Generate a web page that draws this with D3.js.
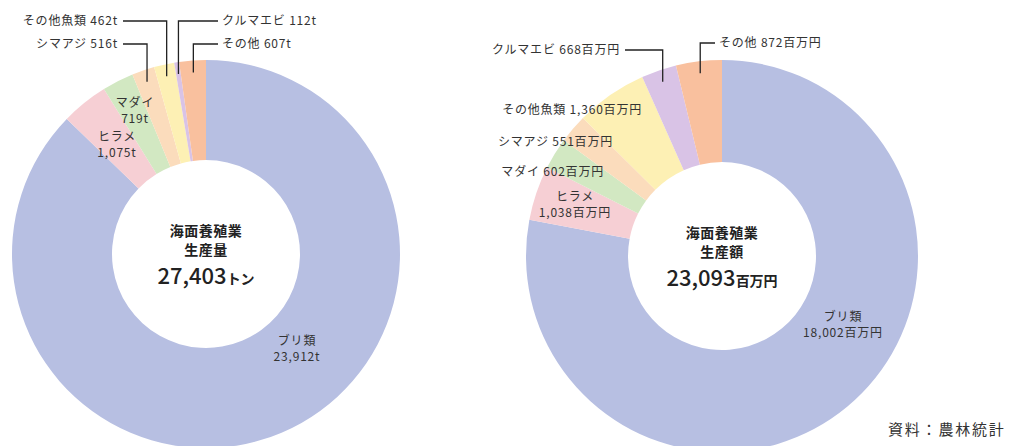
<!DOCTYPE html>
<html>
<head>
<meta charset="utf-8">
<script src="https://cdn.jsdelivr.net/npm/d3@7"></script>
<style>
  html, body { margin: 0; padding: 0; background: #fff; }
  svg { display: block; font-family: "Noto Sans CJK JP", "Noto Sans", sans-serif; }
</style>
</head>
<body>
<svg id="chart" width="1014" height="446"></svg>
<script>
// 品目（時計回り、12時から）
const species = ["ブリ類", "ヒラメ", "マダイ", "シマアジ", "その他魚類", "クルマエビ", "その他"];
// 生産量 (t)
const volumeValues = [23912, 1075, 719, 516, 462, 112, 607];
// 生産額 (百万円)
const valueValues = [18002, 1038, 602, 551, 1360, 668, 872];
const volumeTotal = 27403;
const valueTotal = 23093;

const colors = ["#b7bfe2", "#f6cfd4", "#d2e8c2", "#fbdcbc", "#fdf0b4", "#d9c3e6", "#f9c09e"];

const svg = d3.select("#chart");
const fmt = d3.format(",");

// ラベル配置: [x, y, anchor, 種類]  種類: in=中に2行, side=1行, call=引き出し線
const volumeLayout = [
  [297, 349, "middle", "in"],
  [117, 145, "middle", "in"],
  [135, 111, "middle", "in"],
  [118, 44, "end", "call"],
  [118, 21, "end", "call"],
  [222, 21, "start", "call"],
  [222, 44, "start", "call"]
];
const valueLayout = [
  [843, 325, "middle", "in"],
  [575, 205, "middle", "in"],
  [604, 172, "end", "side"],
  [613, 142, "end", "side"],
  [642, 110, "end", "side"],
  [620, 50, "end", "call"],
  [719, 43, "start", "call"]
];

function drawDonut(opt) {
  const g = svg.append("g").attr("transform", `translate(${opt.cx},${opt.cy})`);
  const pie = d3.pie().sort(null).value(d => d);
  const arcs = pie(opt.values);
  const arc = d3.arc().innerRadius(opt.inner).outerRadius(opt.outer);

  g.selectAll("path")
    .data(arcs)
    .join("path")
    .attr("d", arc)
    .attr("fill", (d, i) => colors[i]);

  // 中心の文字
  [["海面養殖業", -18], [opt.title, 1]].forEach(([txt, y]) => {
    g.append("text")
      .attr("text-anchor", "middle")
      .attr("y", y)
      .attr("fill", "#222")
      .style("font-weight", "bold")
      .style("font-size", "14px")
      .style("letter-spacing", "0.5px")
      .text(txt);
  });
  const big = g.append("text")
    .attr("text-anchor", "middle")
    .attr("y", 30)
    .attr("fill", "#222");
  big.append("tspan").style("font-size", "22px").style("font-weight", "500").text(fmt(opt.total));
  big.append("tspan").style("font-size", "14px").style("font-weight", "bold").text(opt.unitBig);

  // ラベル
  const calloutArc = d3.arc().innerRadius(opt.outer - 12).outerRadius(opt.outer - 12);
  arcs.forEach((d, i) => {
    const [x, y, anchor, kind] = opt.layout[i];
    const name = species[i];
    const val = fmt(opt.values[i]) + opt.unit;
    const t = svg.append("text")
      .attr("text-anchor", anchor)
      .attr("fill", "#333")
      .style("font-size", "12px")
      .style("letter-spacing", "0.8px");
    if (kind === "in") {
      t.append("tspan").attr("x", x).attr("y", y - 8).attr("dy", "0.35em").text(name);
      t.append("tspan").attr("x", x).attr("y", y + 8).attr("dy", "0.35em").text(val);
    } else {
      t.attr("x", x).attr("y", y).attr("dy", "0.35em").text(name + " " + val);
    }
    if (kind === "call") {
      const [px, py] = calloutArc.centroid(d);
      const sx = opt.cx + px, sy = opt.cy + py;
      const tx = anchor === "end" ? x + 5 : x - 4;
      svg.append("path")
        .attr("d", `M${sx},${sy}V${y}H${tx}`)
        .attr("fill", "none")
        .attr("stroke", "#222")
        .attr("stroke-width", 1.3);
    }
  });
}

drawDonut({
  cx: 206, cy: 254, outer: 194, inner: 94,
  values: volumeValues, total: volumeTotal,
  title: "生産量", unit: "t", unitBig: "トン", layout: volumeLayout
});

drawDonut({
  cx: 722, cy: 256, outer: 196, inner: 94,
  values: valueValues, total: valueTotal,
  title: "生産額", unit: "百万円", unitBig: "百万円", layout: valueLayout
});

svg.append("text")
  .attr("x", 888)
  .attr("y", 430)
  .attr("dy", "0.35em")
  .attr("fill", "#333")
  .style("font-size", "15px")
  .style("letter-spacing", "1.8px")
  .text("資料：農林統計");
</script>
</body>
</html>
